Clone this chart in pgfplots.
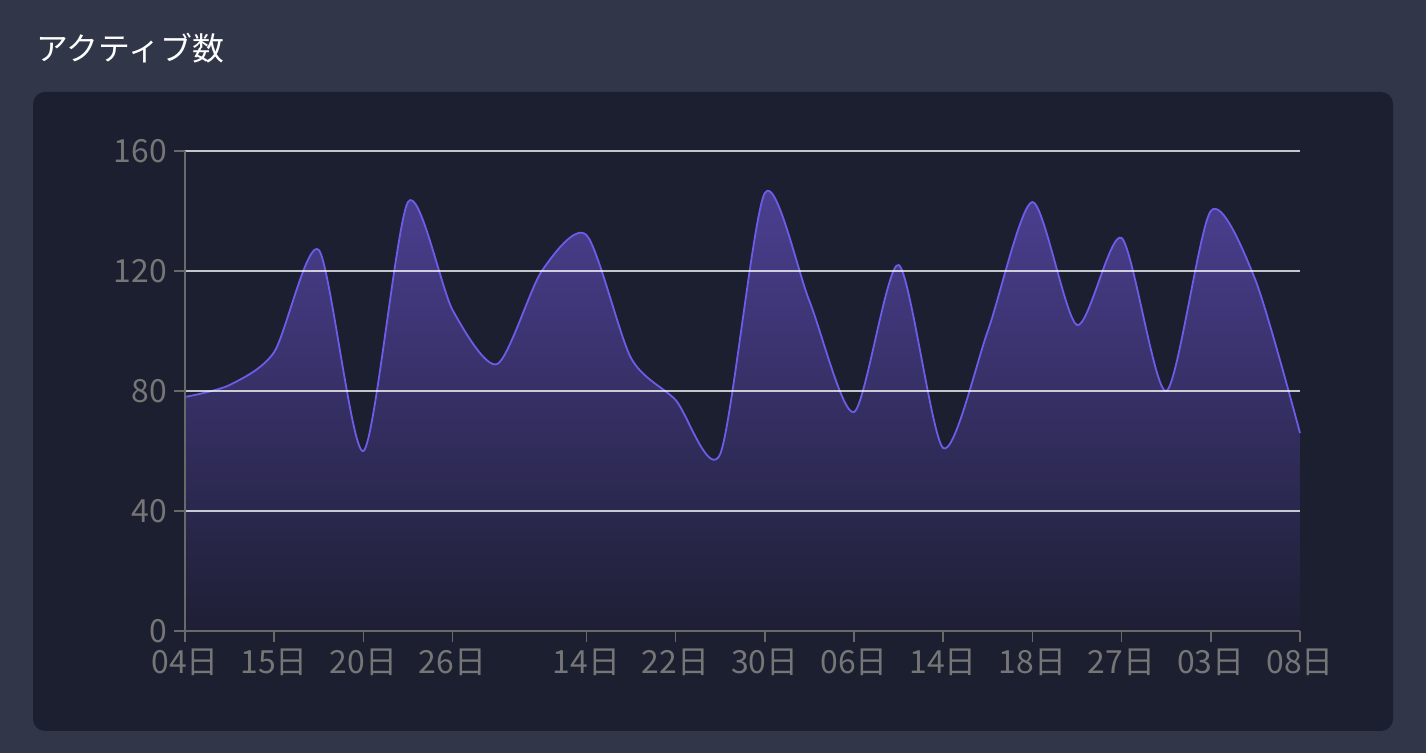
\documentclass[border=0pt]{standalone}
\usepackage{pgfplots}
\usepackage{pgfplotstable}
\pgfplotsset{compat=1.18}
\usepackage{fontspec}
\setmainfont{Noto Sans CJK JP}

\definecolor{outerbg}{RGB}{49,54,73}
\definecolor{panelbg}{RGB}{27,31,48}
\definecolor{linecol}{RGB}{108,92,231}
\definecolor{filltop}{RGB}{76,64,148}
\definecolor{fillbot}{RGB}{30,31,52}
\definecolor{tickgray}{RGB}{118,118,118}
\definecolor{axisgray}{RGB}{105,105,105}

% x: 0..12.5 in half steps, ticks at the labelled dates
\pgfplotstableread{
x    y
0    78
0.5  82
1    93
1.5  127
2    60
2.5  143
3    107
3.5  89
4    120
4.5  132
5    91
5.5  77
6    59
6.5  146
7    110
7.5  73
8    122
8.5  61
9    100
9.5  143
10   102
10.5 131
11   80
11.5 140
12   117
12.5 66
}\activedata

\begin{document}
\begin{tikzpicture}
\useasboundingbox (0,0) rectangle (713bp,376.5bp);
\fill[outerbg] (0,0) rectangle (713bp,376.5bp);
\fill[panelbg, rounded corners=6bp] (16.5bp,11bp) rectangle (696.5bp,330.5bp);
\node[anchor=west, text=white, font=\fontsize{16}{16}\selectfont, inner sep=0pt]
  at (18bp,352.5bp) {アクティブ数};

\begin{axis}[
  at={(92.5bp,61bp)}, anchor=south west,
  scale only axis, width=557.5bp, height=240bp,
  xmin=0, xmax=12.5, ymin=0, ymax=160,
  axis lines=left, axis line style={axisgray, line width=1bp, -},
  axis on top,
  xtick={0,1,2,3,4.5,5.5,6.5,7.5,8.5,9.5,10.5,11.5,12.5},
  xticklabels={04日,15日,20日,26日,14日,22日,30日,06日,14日,18日,27日,03日,08日},
  ytick={0,40,80,120,160},
  tick align=outside, major tick length=5.5bp,
  tick style={axisgray, line width=0.8bp},
  ymajorgrids, grid style={white, opacity=0.75, line width=0.8bp},
  ticklabel style={text=tickgray, font=\fontsize{16}{16}\selectfont},
  /pgf/number format/assume math mode=true,
  clip=false,
]
\addplot[draw=none, top color=filltop, bottom color=fillbot, smooth, tension=0.45]
  table[x=x, y=y] {\activedata} \closedcycle;
\addplot[linecol, line width=0.9bp, smooth, tension=0.45] table[x=x, y=y] {\activedata};
\end{axis}
\end{tikzpicture}
\end{document}
